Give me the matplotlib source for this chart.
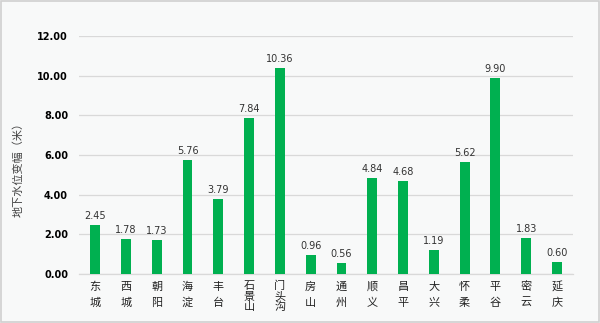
import matplotlib
matplotlib.use("Agg")
import matplotlib.pyplot as plt
from matplotlib.patches import Rectangle

plt.rcParams['font.family'] = ['Noto Sans CJK SC', 'DejaVu Sans']

districts = ['东城', '西城', '朝阳', '海淀', '丰台', '石景山', '门头沟', '房山', '通州',
             '顺义', '昌平', '大兴', '怀柔', '平谷', '密云', '延庆']
values = [2.45, 1.78, 1.73, 5.76, 3.79, 7.84, 10.36, 0.96, 0.56,
          4.84, 4.68, 1.19, 5.62, 9.90, 1.83, 0.60]
yticks = [0, 2, 4, 6, 8, 10, 12]

bg = '#f8f9f9'
fig = plt.figure(figsize=(6.0, 3.23), dpi=100, facecolor=bg)
ax = fig.add_axes([0.132, 0.152, 0.823, 0.737], facecolor=bg)
fig.patches.append(Rectangle((0.002, 0.003), 0.996, 0.994, transform=fig.transFigure,
                             fill=False, edgecolor='#d0d0d0', lw=1.2))

x = range(len(districts))
ax.bar(x, values, width=0.32, color='#00b050', zorder=3)
for i, v in zip(x, values):
    ax.text(i, v + 0.2, f"{v:.2f}", ha='center', va='bottom', fontsize=7, color='#333333',
            family='DejaVu Sans', zorder=4)

ax.set_xlim(-0.52, len(districts) - 0.48)
ax.set_ylim(0, 12)
ax.set_yticks(yticks)
ax.set_yticklabels([f"{t:.2f}" for t in yticks], fontsize=7, fontweight='bold',
                   family='DejaVu Sans')
ax.set_xticks(list(x))
ax.set_xticklabels([])
ax.tick_params(axis='both', length=0, pad=8)

# vertical category labels, one character per line (3-char names packed tighter)
for i, d in zip(x, districts):
    offs = [-13, -29] if len(d) == 2 else [-12, -23, -33]
    for ch, dy in zip(d, offs):
        ax.annotate(ch, (i, 0), xycoords=('data', 'axes fraction'),
                    xytext=(0, dy), textcoords='offset pixels',
                    ha='center', va='center', fontsize=8, color='#222222')

ax.grid(axis='y', color='#d9d9d9', lw=0.9, zorder=0)
for s in ['top', 'right', 'left']:
    ax.spines[s].set_visible(False)
ax.spines['bottom'].set_color('#d9d9d9')
ax.spines['bottom'].set_linewidth(0.9)

ax.set_ylabel('地下水位变幅（米）', fontsize=8, color='#444444')
ax.yaxis.set_label_coords(-0.112, 0.45)

fig.savefig('out.png', dpi=100, facecolor=bg)
